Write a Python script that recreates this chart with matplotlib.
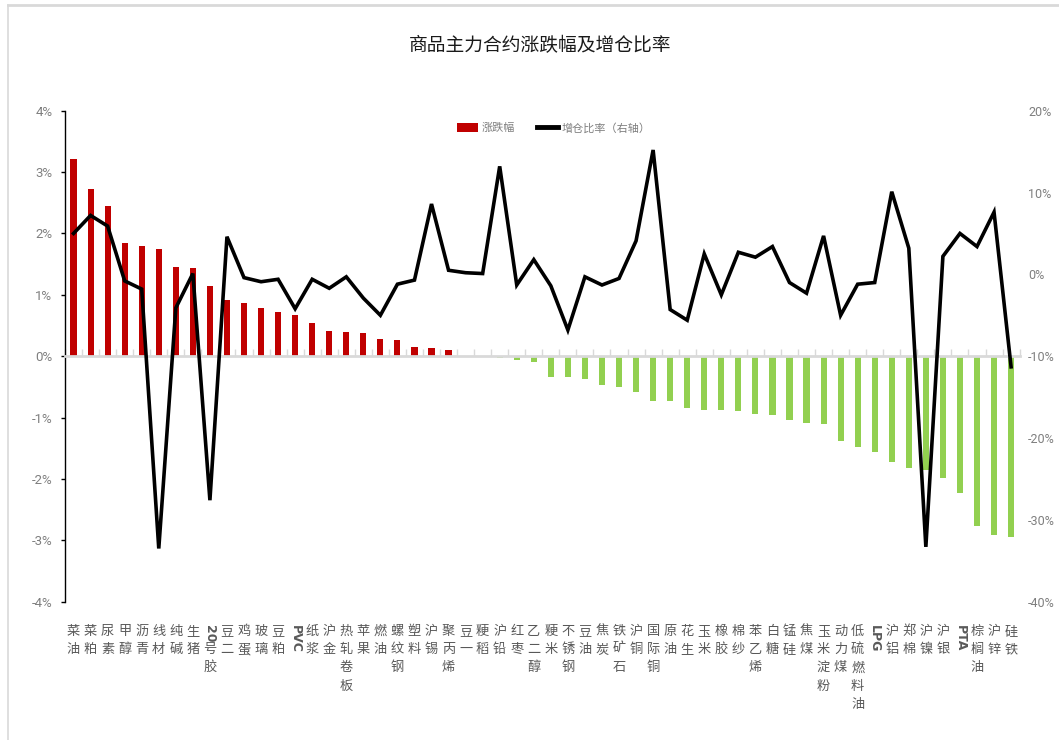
import numpy as np
import matplotlib
matplotlib.use('Agg')
import matplotlib.pyplot as plt
from matplotlib.patches import Patch
from matplotlib.lines import Line2D
from matplotlib.ticker import FuncFormatter

plt.rcParams['font.family'] = ['Noto Sans CJK SC', 'DejaVu Sans']

# data
names = ['菜油', '菜粕', '尿素', '甲醇', '沥青', '线材', '纯碱', '生猪', '20号胶', '豆二',
         '鸡蛋', '玻璃', '豆粕', 'PVC', '纸浆', '沪金', '热轧卷板', '苹果', '燃油', '螺纹钢',
         '塑料', '沪锡', '聚丙烯', '豆一', '粳稻', '沪铅', '红枣', '乙二醇', '粳米', '不锈钢',
         '豆油', '焦炭', '铁矿石', '沪铜', '国际铜', '原油', '花生', '玉米', '橡胶', '棉纱',
         '苯乙烯', '白糖', '锰硅', '焦煤', '玉米淀粉', '动力煤', '低硫燃料油', 'LPG', '沪铝', '郑棉',
         '沪镍', '沪银', 'PTA', '棕榈油', '沪锌', '硅铁']

change = [3.22, 2.72, 2.45, 1.85, 1.79, 1.75, 1.46, 1.44, 1.15, 0.91,
          0.87, 0.78, 0.72, 0.67, 0.54, 0.41, 0.40, 0.37, 0.28, 0.27,
          0.15, 0.14, 0.10, 0.005, 0.0, -0.03, -0.06, -0.09, -0.34, -0.34,
          -0.37, -0.47, -0.50, -0.58, -0.73, -0.73, -0.85, -0.87, -0.87, -0.89,
          -0.94, -0.96, -1.04, -1.09, -1.11, -1.38, -1.48, -1.56, -1.72, -1.82,
          -1.86, -1.99, -2.23, -2.76, -2.92, -2.94]

oi_ratio = [5.0, 7.2, 5.9, -0.8, -1.8, -33.5, -4.1, 0.1, -27.6, 4.6,
            -0.4, -0.9, -0.6, -4.2, -0.6, -1.7, -0.3, -2.9, -5.0, -1.2,
            -0.7, 8.6, 0.5, 0.2, 0.1, 13.2, -1.3, 1.8, -1.4, -6.8,
            -0.3, -1.3, -0.5, 4.1, 15.2, -4.3, -5.6, 2.5, -2.5, 2.7,
            2.1, 3.4, -1.0, -2.3, 4.7, -5.0, -1.2, -1.0, 10.1, 3.2,
            -33.3, 2.2, 5.0, 3.4, 7.6, -11.3]

left_ticks = [-4, -3, -2, -1, 0, 1, 2, 3, 4]
right_ticks = [-40, -30, -20, -10, 0, 10, 20]

RED = '#C00000'
GREEN = '#92D050'
GREY = '#7F7F7F'
num_font = 'Roboto'

fig = plt.figure(figsize=(10.59, 7.40), dpi=100)
ax = fig.add_axes([0.0614, 0.1869, 0.9014, 0.6635])
ax2 = ax.twinx()

x = np.arange(len(names))
colors = [RED if v >= 0 else GREEN for v in change]
ax.bar(x, change, width=0.36, color=colors, zorder=2)
ax2.plot(x, oi_ratio, color='black', lw=2.6, solid_joinstyle='miter', zorder=3)

ax.set_xlim(-0.5, len(names) - 0.5)
ax.set_ylim(-4, 4)
ax2.set_ylim(-40, 20)

# left axis
ax.set_yticks(left_ticks)
ax.yaxis.set_major_formatter(FuncFormatter(lambda v, p: '%d%%' % v))
ax.tick_params(axis='y', direction='out', length=3, width=1, color='black',
               labelcolor=GREY, labelsize=9.5, pad=6)
for lab in ax.get_yticklabels():
    lab.set_fontfamily(num_font)
ax.spines['left'].set_color('black')
ax.spines['left'].set_linewidth(1)
ax.spines['top'].set_visible(False)
ax.spines['right'].set_visible(False)

# category axis sits at zero
ax.spines['bottom'].set_position(('data', 0))
ax.spines['bottom'].set_color('#D9D9D9')
ax.spines['bottom'].set_linewidth(2)
ax.set_xticks(np.arange(len(names) + 1) - 0.5)
ax.set_xticklabels([])
ax.tick_params(axis='x', direction='in', length=5, width=1, color='#D9D9D9')

# right axis
ax2.set_yticks(right_ticks)
ax2.yaxis.set_major_formatter(FuncFormatter(lambda v, p: '%d%%' % v))
ax2.tick_params(axis='y', length=0, labelcolor=GREY, labelsize=9, pad=6)
for lab in ax2.get_yticklabels():
    lab.set_fontfamily(num_font)
for s in ax2.spines.values():
    s.set_visible(False)

# vertical category labels below the plot
row = 13.2
for i, name in enumerate(names):
    toks = []
    buf = ''
    for ch in name:
        if ch.isascii():
            buf += ch
        else:
            if buf:
                toks.append(buf)
                buf = ''
            toks.append(ch)
    if buf:
        toks.append(buf)
    off = 16.5
    for t in toks:
        if t.isascii():
            ax.annotate(t, xy=(i, 0), xycoords=('data', 'axes fraction'),
                        xytext=(0, -off), textcoords='offset points',
                        ha='center', va='top', rotation=-90, fontsize=9,
                        fontweight='bold', color='#595959', family='DejaVu Sans')
            off += max(row, 5.6 * len(t))
        else:
            ax.annotate(t, xy=(i, 0), xycoords=('data', 'axes fraction'),
                        xytext=(0, -off), textcoords='offset points',
                        ha='center', va='top', fontsize=9.5, color='#595959')
            off += row

fig.text(0.51, 0.939, '商品主力合约涨跌幅及增仓比率', ha='center', va='center',
         fontsize=13.5, color='#1A1A1A')

handles = [Patch(facecolor=RED, edgecolor='none'),
           Line2D([0], [0], color='black', lw=3.5)]
fig.legend(handles, ['涨跌幅', '增仓比率（右轴）'], loc='center',
           bbox_to_anchor=(0.523, 0.827), ncol=2, frameon=False, fontsize=8,
           labelcolor=GREY, handlelength=1.9, handleheight=0.9,
           handletextpad=0.3, columnspacing=2.0)

# outer frame (top and left edges visible)
fig.add_artist(Line2D([0.0076, 1.0], [0.9932, 0.9932], transform=fig.transFigure,
                      color='#D9D9D9', lw=2))
fig.add_artist(Line2D([0.0076, 0.0076], [0.0, 0.9932], transform=fig.transFigure,
                      color='#D9D9D9', lw=1.2))

fig.savefig('out.png', dpi=100)
